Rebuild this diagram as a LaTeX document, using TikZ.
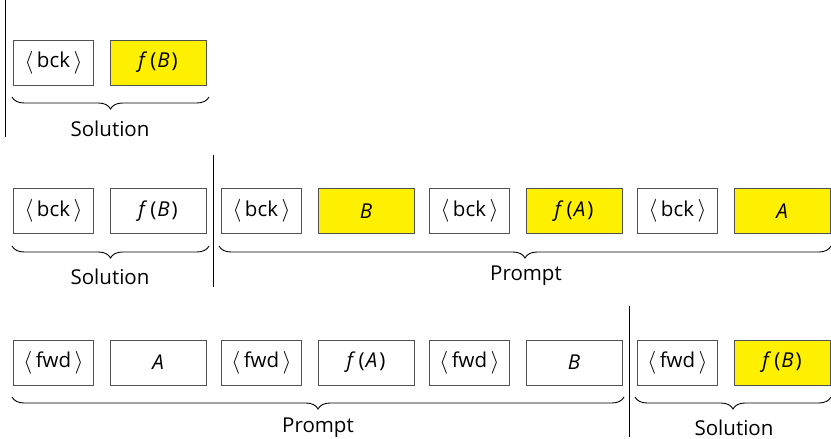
\documentclass[tikz,border=0pt]{standalone}
\usepackage{fontspec}
\setmainfont{Open Sans}
\usetikzlibrary{decorations.pathreplacing}
\definecolor{hl}{RGB}{255,240,0}
\definecolor{bordergray}{RGB}{80,80,80}
\tikzset{
  tok/.style={draw=bordergray, line width=0.9pt, minimum height=45pt, inner sep=0pt, font=\fontsize{20.5}{24}\selectfont},
  sbox/.style={tok, minimum width=80pt},
  bbox/.style={tok, minimum width=96pt},
  hlbox/.style={fill=hl},
  sep/.style={line width=0.9pt, black},
  brc/.style={decorate, decoration={brace, amplitude=12pt, mirror}, line width=0.9pt, black},
  lbl/.style={font=\fontsize{20.5}{24}\selectfont, inner sep=0pt}
}
\newcommand{\tk}[1]{\raisebox{-0.5pt}{\scalebox{1.1}{$\langle$}}\kern3.5pt#1\kern3.5pt\raisebox{-0.5pt}{\scalebox{1.1}{$\rangle$}}}
\newcommand{\fn}[1]{\textit{f}\kern3pt(\kern1pt\textit{#1}\kern2pt)}
\begin{document}
\begin{tikzpicture}[x=1pt,y=-1pt]
\useasboundingbox (0,0) rectangle (831,439);
% Row 1
\draw[sep] (5,0) coordinate (l1a) -- (5,137) coordinate (l1b);
\node[sbox] (r1a) at (53.5,62.5) {\tk{bck}};
\node[bbox,hlbox] (r1b) at (158,62.5) {\fn{B}};
\coordinate (b1s) at (12,97); \coordinate (b1e) at (209,97);
\draw[brc] (b1s) -- (b1e);
\node[lbl] (s1) at (110,129) {Solution};
% Row 2
\draw[sep] (213,155) coordinate (l2a) -- (213,287) coordinate (l2b);
\node[sbox] (r2a) at (53.5,211) {\tk{bck}};
\node[bbox] (r2b) at (158,211) {\fn{B}};
\node[sbox] (r2c) at (261.5,211) {\tk{bck}};
\node[bbox,hlbox] (r2d) at (366,211) {\textit{B}};
\node[sbox] (r2e) at (469.5,211) {\tk{bck}};
\node[bbox,hlbox] (r2f) at (574,211) {\fn{A}};
\node[sbox] (r2g) at (677.5,211) {\tk{bck}};
\node[bbox,hlbox] (r2h) at (782,211) {\textit{A}};
\coordinate (b2s) at (12,246); \coordinate (b2e) at (209,246);
\draw[brc] (b2s) -- (b2e);
\coordinate (b3s) at (219,246); \coordinate (b3e) at (831,246);
\draw[brc] (b3s) -- (b3e);
\node[lbl] (s2) at (110,277) {Solution};
\node[lbl] (p2) at (526,276) {Prompt};
% Row 3
\draw[sep] (629,306) coordinate (l3a) -- (629,437) coordinate (l3b);
\node[sbox] (r3a) at (53.5,362.5) {\tk{fwd}};
\node[bbox] (r3b) at (158,362.5) {\textit{A}};
\node[sbox] (r3c) at (261.5,362.5) {\tk{fwd}};
\node[bbox] (r3d) at (366,362.5) {\fn{A}};
\node[sbox] (r3e) at (469.5,362.5) {\tk{fwd}};
\node[bbox] (r3f) at (574,362.5) {\textit{B}};
\node[sbox] (r3g) at (677.5,362.5) {\tk{fwd}};
\node[bbox,hlbox] (r3h) at (782,362.5) {\fn{B}};
\coordinate (b4s) at (12,397); \coordinate (b4e) at (624,397);
\draw[brc] (b4s) -- (b4e);
\coordinate (b5s) at (635,397); \coordinate (b5e) at (831,397);
\draw[brc] (b5s) -- (b5e);
\node[lbl] (p3) at (318,428) {Prompt};
\node[lbl] (s3) at (734,428) {Solution};
\end{tikzpicture}
\end{document}
